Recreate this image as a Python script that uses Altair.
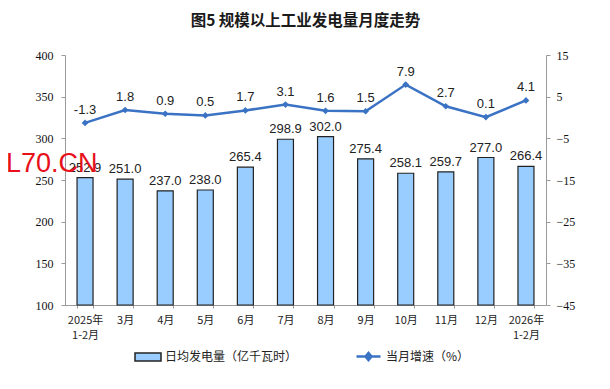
import altair as alt
import pandas as pd

months = ["2025年\n1-2月", "3月", "4月", "5月", "6月", "7月", "8月", "9月",
          "10月", "11月", "12月", "2026年\n1-2月"]
output = [252.9, 251.0, 237.0, 238.0, 265.4, 298.9, 302.0, 275.4, 258.1, 259.7, 277.0, 266.4]
growth = [-1.3, 1.8, 0.9, 0.5, 1.7, 3.1, 1.6, 1.5, 7.9, 2.7, 0.1, 4.1]
left_ticks = [100, 150, 200, 250, 300, 350, 400]
right_ticks = [-45, -35, -25, -15, -5, 5, 15]
bar_name = "日均发电量（亿千瓦时）"
line_name = "当月增速（%）"
title_text = "图5 规模以上工业发电量月度走势"
watermark = ["L70.CN"]

df = pd.DataFrame({"month": months, "output": output, "growth": growth})
df["bar"] = bar_name
df["line"] = line_name
df["output_lbl"] = [f"{v:.1f}" for v in output]
df["growth_lbl"] = [f"{v:.1f}" for v in growth]

BLUE = "#3a72c4"
AXIS_GRAY = "#9a9a9a"
NUM_FONT = "Liberation Sans"

x = alt.X("month:N", sort=months,
          scale=alt.Scale(paddingInner=0.6, paddingOuter=0.3),
          axis=alt.Axis(title=None, labelAngle=0,
                        labelExpr="split(datum.label, '\\n')",
                        tickBand="extent", tickSize=3, tickColor=AXIS_GRAY,
                        domainColor=AXIS_GRAY, labelFont="Noto Sans CJK SC",
                        labelFontSize=11, labelColor="#222", labelPadding=6,
                        labelLineHeight=15))

base = alt.Chart(df)

bars = base.mark_bar(size=16, stroke="#222", strokeWidth=1.2).encode(
    x=x,
    y=alt.Y("output:Q", scale=alt.Scale(domain=[100, 400], zero=False, nice=False),
            axis=alt.Axis(title=None, values=left_ticks, grid=False, tickSize=4,
                          tickColor=AXIS_GRAY, domainColor=AXIS_GRAY,
                          labelFont="Liberation Serif", labelFontSize=12,
                          labelColor="#111", labelPadding=8)),
    y2=alt.datum(100),
    fill=alt.Fill("bar:N", scale=alt.Scale(domain=[bar_name], range=["#99ccff"]),
                  legend=alt.Legend(title=None, orient="none", legendX=69, legendY=288,
                                    symbolType="M-1,-0.3H1V0.3H-1Z", symbolSize=676,
                                    symbolStrokeColor="#222", symbolStrokeWidth=1.5,
                                    labelFont="Noto Sans CJK SC", labelFontSize=12,
                                    labelColor="#222", labelOffset=3)),
)
bar_text = base.mark_text(font=NUM_FONT, fontSize=13, color="#222",
                          baseline="middle", dy=-10).encode(
    x=x, y="output:Q", text="output_lbl:N")

line = base.mark_line(color=BLUE, strokeWidth=2.5,
                      point=alt.OverlayMarkDef(shape="diamond", filled=True,
                                               size=45, color=BLUE)).encode(
    x=x,
    y=alt.Y("growth:Q", scale=alt.Scale(domain=[-45, 15], nice=False),
            axis=alt.Axis(title=None, orient="right", values=right_ticks, grid=False,
                          tickSize=4, tickColor=AXIS_GRAY, domainColor=AXIS_GRAY,
                          labelFont="Liberation Serif", labelFontSize=12,
                          labelColor="#111", labelPadding=6)),
    color=alt.Color("line:N", scale=alt.Scale(domain=[line_name], range=[BLUE]),
                    legend=alt.Legend(title=None, orient="none", legendX=290, legendY=288,
                                      symbolType="M-1,0H1M-0.25,0L0,-0.3L0.25,0L0,0.3Z",
                                      symbolSize=576, symbolStrokeWidth=2.5,
                                      symbolFillColor=BLUE,
                                      labelFont="Noto Sans CJK SC", labelFontSize=12,
                                      labelColor="#222", labelOffset=4)),
)
line_text = base.mark_text(font=NUM_FONT, fontSize=13, color="#222",
                           baseline="middle", dy=-13).encode(
    x=x, y="growth:Q", text="growth_lbl:N")

wm = alt.Chart(pd.DataFrame({"t": watermark})).mark_text(
    font="Liberation Sans", fontSize=27, color="#e8101a", align="left",
    baseline="middle").encode(text="t:N", x=alt.value(-59), y=alt.value(109))

chart = alt.layer(
    alt.layer(bars, bar_text),
    alt.layer(line, line_text),
    wm,
).resolve_scale(y="independent").properties(
    width=481, height=250,
    padding={"left": 57, "top": 47, "right": 56, "bottom": 76},
    autosize=alt.AutoSizeParams(type="none"),
    title=alt.TitleParams(title_text, font="Noto Sans CJK SC", fontSize=15.5,
                          fontWeight="bold", color="#1a1a1a", anchor="middle", offset=20),
).configure_view(stroke=None)

chart.save("out.html", embed_options={"renderer": "svg", "actions": False})
